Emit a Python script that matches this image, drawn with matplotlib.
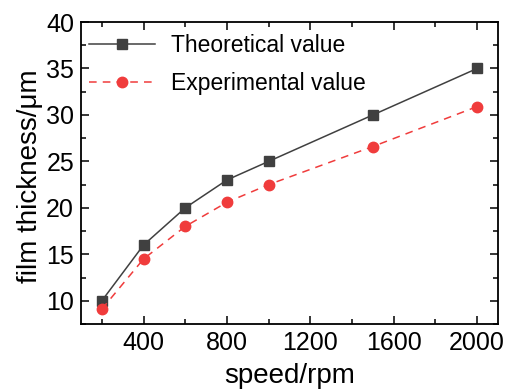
import matplotlib
matplotlib.use("Agg")
import matplotlib.pyplot as plt
from matplotlib.ticker import MultipleLocator

plt.rcParams["font.family"] = ["Liberation Sans", "DejaVu Sans"]

speed = [200, 400, 600, 800, 1000, 1500, 2000]
theoretical = [10, 16, 20, 23, 25, 30, 35]
experimental = [9.1, 14.5, 18.0, 20.6, 22.5, 26.6, 30.9]

fig = plt.figure(figsize=(5.05, 3.92), dpi=100)
ax = fig.add_axes([81 / 505, 1 - 324 / 392, (498 - 81) / 505, (324 - 22) / 392])

ax.plot(speed, theoretical, color="#404040", lw=1.1, marker="s", ms=7.5,
        label="Theoretical value")
ax.plot(speed, experimental, color="#f03c3c", lw=1.1, ls=(0, (5, 4)), marker="o", ms=7.5,
        label="Experimental value")

ax.set_xlim(100, 2100)
ax.set_ylim(7.5, 40)
ax.xaxis.set_minor_locator(MultipleLocator(200))
ax.yaxis.set_major_locator(MultipleLocator(5))
ax.yaxis.set_minor_locator(MultipleLocator(2.5))
ax.set_xticks([400, 800, 1200, 1600, 2000])
ax.tick_params(which="both", direction="in", top=True, right=True, labelsize=18, width=1.1)
ax.tick_params(which="major", length=6, pad=5)
ax.tick_params(which="minor", length=3.5)
for s in ax.spines.values():
    s.set_linewidth(1.3)

ax.set_xlabel("speed/rpm", fontsize=20)
ax.set_ylabel("film thickness/μm", fontsize=20)
ax.xaxis.set_label_coords(0.5, -0.128)
ax.yaxis.set_label_coords(-0.091, 0.49)

ax.legend(loc="upper left", bbox_to_anchor=(0.018, 0.96), frameon=False, fontsize=16.5,
          handlelength=2.9, borderpad=0, borderaxespad=0, labelspacing=0.64,
          handletextpad=0.7)

fig.savefig("out.png", dpi=100)
